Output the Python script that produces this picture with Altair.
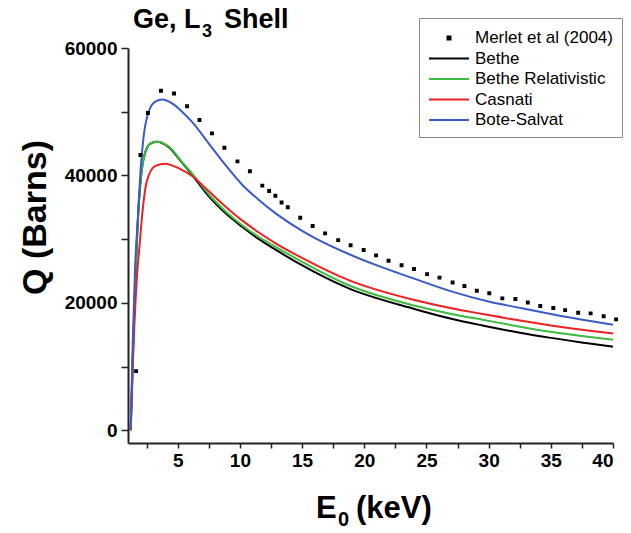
import altair as alt
import pandas as pd

# ---------------- data ----------------
series_names = ["Merlet et al (2004)", "Bethe", "Bethe Relativistic", "Casnati", "Bote-Salvat"]
series_colors = ["#000000", "#000000", "#3dbb3d", "#ee2020", "#3a5bc7"]

merlet_e = [1.65, 2.0, 2.6, 3.65, 4.7, 5.75, 6.75, 7.75, 8.75, 9.8,
            10.8, 11.8, 12.35, 12.85, 13.35, 13.85, 14.85, 15.85, 16.85, 17.9,
            18.9, 19.95, 20.95, 21.95, 23.0, 24.0, 25.05, 26.05, 27.1, 28.05,
            29.05, 30.05, 31.1, 32.15, 33.15, 34.15, 35.2, 36.15, 37.2, 38.2,
            39.25, 40.25]
merlet_q = [9280, 43200, 49800, 53300, 52850, 50850, 48700, 46600, 44350, 42200,
            40650, 38400, 37550, 36800, 35750, 35000, 33350, 32050, 30900, 29850,
            29050, 28300, 27450, 26600, 25900, 25300, 24500, 23950, 23200, 22650,
            21900, 21500, 20700, 20600, 20050, 19500, 19200, 18850, 18450, 18350,
            17900, 17400]

bethe_e = [1.217, 1.4, 1.6, 1.85, 2.1, 2.4, 2.8, 3.3, 4.3, 5.35, 6.15, 7.5, 8.85,
           10.2, 11.55, 12.9, 14.8, 18.7, 24.1, 27, 29.5, 32.4, 35, 37.8, 40]
bethe_q = [0, 12500, 24000, 35000, 40800, 43700, 45000, 45300, 44400, 42000, 40100,
           36700, 34050, 31900, 29950, 28300, 26100, 22300, 19000, 17500, 16450,
           15350, 14500, 13700, 13100]

bethe_rel_e = [1.217, 1.4, 1.6, 1.85, 2.1, 2.4, 2.8, 3.3, 4.3, 5.35, 6.15, 7.5, 8.85,
               10.2, 11.55, 12.9, 14.8, 18.7, 24.1, 27, 29.5, 32.4, 35, 37.8, 40]
bethe_rel_q = [0, 12500, 24000, 35000, 40800, 43700, 45000, 45300, 44500, 42100, 40300,
               37000, 34350, 32150, 30300, 28750, 26650, 22800, 19530, 18250, 17350,
               16300, 15450, 14700, 14200]

casnati_e = [1.217, 1.45, 1.7, 1.95, 2.15, 2.5, 3.2, 4.0, 5.1, 6.15, 7.5, 8.85,
             10.2, 11.55, 12.9, 14.8, 18.7, 24.1, 27, 29.5, 32.4, 35, 37.8, 40]
casnati_q = [0, 13600, 23500, 29500, 34000, 39000, 41500, 41850, 41100, 39900, 37500,
             35100, 32900, 31000, 29300, 27250, 23600, 20400, 19150, 18250, 17250,
             16450, 15700, 15200]

bote_e = [1.217, 1.38, 1.57, 1.8, 2.0, 2.25, 2.66, 3.2, 3.75, 4.55, 5.35, 6.15, 7.5,
          8.85, 10.2, 11.55, 12.9, 15, 16, 18.7, 21.4, 24, 27, 30, 32.4, 35, 37.8, 40]
bote_q = [0, 13600, 25500, 33500, 40500, 46000, 50000, 51600, 51900, 51300, 50000,
          48400, 45000, 41600, 38500, 36100, 34000, 31300, 30200, 27700, 25600, 23800,
          21800, 20200, 19250, 18250, 17250, 16550]

x_ticks = [2.5, 5, 7.5, 10, 12.5, 15, 17.5, 20, 22.5, 25, 27.5, 30, 32.5, 35, 37.5, 40]
y_ticks = [0, 10000, 20000, 30000, 40000, 50000, 60000]

title_main = "Ge, L"
title_sub = "3"
title_tail = "Shell"
xtitle_main = "E"
xtitle_sub = "0"
xtitle_tail = "(keV)"

# ---------------- tables ----------------
curves = [
    ("Bethe", bethe_e, bethe_q),
    ("Bethe Relativistic", bethe_rel_e, bethe_rel_q),
    ("Casnati", casnati_e, casnati_q),
    ("Bote-Salvat", bote_e, bote_q),
]
pts_df = pd.DataFrame({"E": merlet_e, "Q": merlet_q, "series": series_names[0]})

FONT = "Liberation Sans"
line_path = "M-2,0H2"
square_path = "M-0.15,-0.15H0.15V0.15H-0.15Z"
shape_range = [square_path] + [line_path] * 4

legend = alt.Legend(
    title=None, orient="none", legendX=291, legendY=-30,
    symbolSize=400, symbolStrokeWidth=2, symbolOffset=10,
    labelFont=FONT, labelFontSize=17, labelColor="black", labelOffset=15,
    strokeColor="#8a8a8a", fillColor="white", padding=9, rowPadding=1.5,
    labelLimit=300,
)
color_scale = alt.Scale(domain=series_names, range=series_colors)

x_enc = alt.X("E:Q", scale=alt.Scale(domain=[1, 40], nice=False, zero=False),
              axis=alt.Axis(values=x_ticks, format="d",
                            labelExpr="datum.value % 5 == 0 ? datum.label : ''",
                            title=None))
y_enc = alt.Y("Q:Q", scale=alt.Scale(domain=[-2000, 60000], nice=False, zero=False),
              axis=alt.Axis(values=y_ticks, format="d",
                            labelExpr="datum.value % 20000 == 0 ? datum.label : ''",
                            title="Q (Barns)", titleX=-83, titleY=169, titleFontSize=34,
                            titleBaseline="alphabetic", titleAngle=-90))

layers = []
for name, e, q in curves:
    df = pd.DataFrame({"E": e, "Q": q, "series": name})
    layers.append(
        alt.Chart(df).mark_line(strokeWidth=2, interpolate="monotone").encode(
            x=x_enc, y=y_enc,
            stroke=alt.Stroke("series:N", scale=color_scale, legend=legend),
        )
    )

points = alt.Chart(pts_df).mark_point(filled=True, size=256, strokeWidth=1.5, opacity=1).encode(
    x=x_enc, y=y_enc,
    fill=alt.Fill("series:N", scale=color_scale, legend=legend),
    stroke=alt.Stroke("series:N", scale=color_scale, legend=legend),
    shape=alt.Shape("series:N", scale=alt.Scale(domain=series_names, range=shape_range), legend=legend),
)
layers.append(points)


def label(txt, x, y, size, align="left"):
    return alt.Chart(pd.DataFrame({"t": [txt]})).mark_text(
        align=align, baseline="alphabetic", font=FONT, fontSize=size,
        fontWeight="bold", color="black",
    ).encode(x=alt.value(x), y=alt.value(y), text="t:N")


# title "Ge, L3 Shell" with subscript
layers.append(label(title_main, 5, -20, 27))
layers.append(label(title_sub, 74, -11, 18))
layers.append(label(title_tail, 96, -20, 27))
# x axis title "E0 (keV)" with subscript
layers.append(label(xtitle_main, 188, 470, 31))
layers.append(label(xtitle_sub, 210, 478, 20))
layers.append(label(xtitle_tail, 228, 470, 31))

chart = alt.layer(*layers).properties(
    width=485, height=395,
    autosize=alt.AutoSizeParams(type="none"),
    padding={"left": 128, "top": 48, "right": 18, "bottom": 90},
).configure_view(stroke=None).configure_axis(
    grid=False, domainColor="#222222", domainWidth=2, tickColor="#222222", tickWidth=1.5,
    labelFont=FONT, labelFontSize=19, labelFontWeight="bold", labelColor="black",
    titleFont=FONT, titleFontSize=32, titleFontWeight="bold", titleColor="black",
).configure_axisX(tickSize=5, labelPadding=3).configure_axisY(tickSize=7, labelPadding=4)

chart.save("out.html", embed_options={"renderer": "svg", "actions": False})
